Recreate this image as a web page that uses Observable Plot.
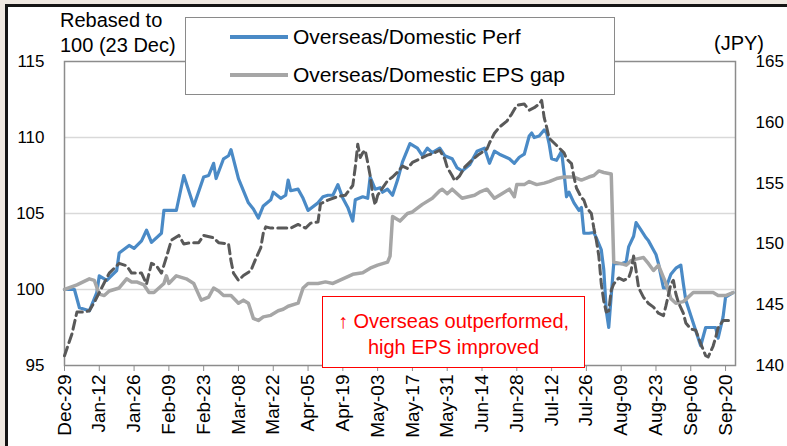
<!DOCTYPE html>
<html><head><meta charset="utf-8">
<script src="https://cdn.jsdelivr.net/npm/d3@7"></script>
<script src="https://cdn.jsdelivr.net/npm/@observablehq/plot@0.6"></script>
<style>
html,body{margin:0;padding:0;}
body{width:787px;height:446px;background:#efe8e1;position:relative;overflow:hidden;font-family:"Liberation Sans",Arial,sans-serif;color:#000;}
#panel{position:absolute;left:5px;top:4px;right:0;bottom:0;border-left:3px solid #151515;border-top:3px solid #151515;background:#fff;}
#chart{position:absolute;left:0;top:0;}
.txt{position:absolute;font-size:20px;line-height:25px;white-space:nowrap;}
#legend{position:absolute;left:185px;top:17px;width:430px;height:78px;box-sizing:border-box;border:1px solid #8a8a8a;background:#fff;}
.sw{position:absolute;height:3.5px;width:58px;left:230px;}
.lt{position:absolute;left:293px;font-size:21px;line-height:24px;white-space:nowrap;}
#note{position:absolute;left:322px;top:296px;width:263px;height:72px;box-sizing:border-box;border:1.5px solid #ff0000;background:#fff;color:#ff0000;font-size:20px;line-height:26px;text-align:center;padding-top:11px;}
</style></head>
<body>
<div id="panel"></div>
<div id="chart"></div>
<div class="txt" style="left:60px;top:8px;">Rebased to<br>100 (23 Dec)</div>
<div class="txt" style="left:714px;top:31px;">(JPY)</div>
<div id="legend"></div>
<div class="sw" style="top:35px;background:#4a8ac6;"></div>
<div class="lt" style="top:25px;">Overseas/Domestic Perf</div>
<div class="sw" style="top:73px;background:#a6a6a6;"></div>
<div class="lt" style="top:63px;">Overseas/Domestic EPS gap</div>
<div id="note">↑ Overseas outperformed,<br>high EPS improved</div>
<script>
// day offsets from 2023-12-29, value
const perf = [[0,100.0],[4,100.0],[6,98.8],[10,98.6],[13,99.8],[14,100.9],[17,100.6],[21,101.25],[22,102.4],[26,102.9],[28,102.7],[31,103.2],[33,103.9],[35,103.1],[39,103.7],[40,105.2],[45,105.2],[48,107.5],[52,105.5],[56,107.4],[58,107.5],[60,108.3],[61,107.3],[64,108.6],[66,108.8],[67,109.2],[70,107.3],[74,105.7],[76,105.3],[78,104.7],[80,105.5],[83,105.9],[84,106.4],[87,106.0],[89,106.2],[90,107.2],[91,106.5],[94,106.6],[96,106.0],[98,105.2],[102,105.7],[104,106.1],[106,106.2],[108,106.2],[110,106.9],[112,106.0],[114,105.4],[116,104.5],[117,105.9],[120,106.1],[122,106.0],[123,107.4],[125,106.6],[127,106.7],[128,106.4],[130,106.6],[132,106.2],[134,107.2],[136,108.4],[139,109.6],[142,109.3],[144,108.8],[146,109.3],[148,109.0],[151,109.3],[153,108.8],[156,108.6],[158,108.0],[160,107.8],[163,108.2],[166,109.1],[169,109.3],[171,108.3],[173,109.1],[175,108.9],[179,108.6],[181,108.3],[183,108.7],[185,108.9],[187,110.1],[188,110.3],[189,110.0],[191,110.1],[193,110.5],[194,110.3],[195,109.6],[196,108.6],[198,108.5],[200,109.1],[201,107.7],[202,106.1],[203,106.4],[205,105.7],[207,105.2],[208,105.4],[209,103.7],[211,103.7],[213,103.75],[214,103.4],[216,102.6],[217,101.3],[218,98.6],[219,97.5],[221,101.7],[224,101.7],[226,101.8],[227,102.8],[229,103.5],[230,104.4],[232,103.9],[234,103.4],[235,103.2],[237,102.6],[238,102.3],[239,101.7],[241,100.1],[242,100.1],[244,101.0],[246,101.4],[248,101.6],[249,100.4],[250,99.3],[253,97.8],[255,96.8],[256,96.3],[258,97.5],[262,97.5],[263,96.8],[265,98.2],[266,99.5],[267,99.6],[269,99.8]];

const epsGap = [[0,100.0],[5,100.3],[10,100.7],[12,100.6],[14,99.7],[16,99.6],[18,99.9],[22,100.1],[25,100.7],[27,100.5],[29,100.5],[32,100.3],[34,99.8],[36,99.8],[38,100.1],[40,100.4],[41,100.9],[42,100.4],[45,100.9],[49,100.7],[52,100.4],[55,99.3],[58,99.5],[60,100.1],[62,99.9],[64,99.6],[67,99.6],[70,99.1],[72,99.3],[74,99.1],[76,98.1],[78,97.96],[80,98.2],[83,98.3],[86,98.6],[88,98.7],[90,98.9],[94,99.1],[96,100.1],[98,100.4],[102,100.4],[105,100.5],[108,100.4],[112,100.7],[116,101.0],[120,101.1],[123,101.4],[126,101.6],[130,101.8],[131,102.2],[132,104.8],[135,104.5],[138,105.0],[140,105.1],[144,105.6],[148,106.0],[151,106.5],[152,106.6],[154,106.3],[156,106.6],[158,106.3],[160,106.0],[165,106.2],[167,106.4],[170,106.6],[173,106.0],[176,106.3],[179,106.6],[181,106.1],[182,106.9],[185,106.9],[187,107.1],[190,106.9],[193,107.0],[195,107.1],[198,107.3],[201,107.4],[205,107.4],[208,107.2],[211,107.4],[213,107.5],[215,107.8],[217,107.7],[220,107.6],[221,101.8],[224,101.7],[226,101.6],[228,101.9],[230,102.0],[233,102.1],[235,101.7],[237,101.25],[239,101.6],[241,100.8],[242,100.4],[244,99.4],[246,99.1],[249,99.2],[251,99.5],[253,99.8],[255,99.8],[258,99.8],[261,99.8],[263,99.6],[266,99.6],[269,99.8]];

// USD/JPY (right axis)
const usdJpy = [[0,140.8],[3,142.6],[5,144.4],[8,144.4],[10,144.5],[12,145.2],[14,146.0],[18,147.6],[22,148.4],[25,148.2],[27,147.6],[29,147.6],[31,147.6],[33,146.7],[35,148.4],[37,148.2],[39,147.6],[41,148.9],[43,150.3],[46,150.7],[48,150.0],[51,150.1],[54,150.1],[56,150.7],[60,150.5],[62,150.1],[66,150.0],[67,148.6],[68,147.6],[70,147.0],[72,147.4],[75,147.8],[77,148.8],[79,149.7],[80,150.9],[81,151.4],[83,151.3],[87,151.3],[91,151.3],[94,151.6],[97,151.3],[99,151.7],[102,151.8],[103,153.3],[106,153.6],[110,153.9],[113,154.0],[116,154.8],[117,156.3],[118,158.2],[119,157.1],[120,157.5],[121,157.7],[122,156.7],[123,155.6],[124,154.1],[125,153.2],[126,154.0],[128,154.6],[130,155.2],[132,155.5],[134,155.9],[136,156.4],[138,156.2],[140,156.7],[143,157.0],[146,157.3],[148,157.4],[151,157.7],[153,157.0],[154,156.3],[156,155.6],[157,155.2],[159,155.6],[161,156.3],[164,156.9],[167,157.4],[170,157.8],[171,158.3],[173,159.1],[175,159.6],[178,160.1],[180,160.7],[182,161.4],[185,161.5],[187,161.0],[189,161.2],[191,161.5],[192,161.8],[193,160.4],[194,159.6],[195,158.7],[197,158.3],[199,157.9],[201,157.5],[202,157.0],[204,156.6],[205,155.5],[206,154.6],[208,153.8],[209,153.6],[210,153.0],[212,152.5],[213,151.3],[214,150.3],[215,149.0],[216,146.7],[217,145.3],[218,144.4],[219,144.5],[220,146.2],[221,146.7],[223,147.2],[225,147.0],[227,147.2],[228,147.8],[229,149.0],[230,147.8],[231,146.4],[233,145.6],[235,145.1],[237,144.8],[239,144.3],[241,144.1],[242,144.9],[244,146.7],[245,147.0],[246,145.9],[247,145.2],[249,144.3],[250,143.5],[252,143.0],[254,142.9],[256,141.8],[258,140.8],[259,140.7],[261,141.6],[262,142.3],[263,143.1],[265,143.7],[267,143.7],[269,143.7]];

const tickLabels = ["Dec-29","Jan-12","Jan-26","Feb-09","Feb-23","Mar-08","Mar-22","Apr-05","Apr-19","May-03","May-17","May-31","Jun-14","Jun-28","Jul-12","Jul-26","Aug-09","Aug-23","Sep-06","Sep-20"];
const leftTicks = [95, 100, 105, 110, 115];
const rightTicks = [140, 145, 150, 155, 160, 165];
const gridLines = [100, 105, 110];

const startDate = new Date(Date.UTC(2023, 11, 29));
const endDate = new Date(Date.UTC(2024, 8, 24));
const toDate = d => d3.utcDay.offset(startDate, d);
const parseTick = d3.utcParse("%b-%d %Y");
const tickDates = tickLabels.map(s => parseTick(s + (s.startsWith("Dec") ? " 2023" : " 2024")));
// right axis 140..165 maps onto left 95..115
const toLeft = v => 95 + (v - 140) * (20 / 25);
const fromLeft = v => 140 + (v - 95) * (25 / 20);

const rows = arr => arr.map(([d, v]) => ({date: toDate(d), value: v}));

const chart = Plot.plot({
  width: 787, height: 446,
  marginLeft: 64, marginRight: 52, marginTop: 61, marginBottom: 81,
  style: {background: "transparent", fontFamily: "'Liberation Sans', Arial, sans-serif", fontSize: "17px", color: "#000", overflow: "visible"},
  x: {type: "utc", domain: [startDate, endDate]},
  y: {domain: [95, 115]},
  marks: [
    Plot.ruleY(gridLines, {stroke: "#d9d9d9", strokeWidth: 1.5}),
    Plot.frame({stroke: "#8c8c8c", strokeWidth: 1.5}),
    Plot.axisY(leftTicks, {anchor: "left", tickSize: 0, tickPadding: 20, label: null, fontSize: 17}),
    Plot.axisY(rightTicks.map(toLeft), {anchor: "right", tickSize: 0, tickPadding: 20, label: null, fontSize: 17, tickFormat: v => String(Math.round(fromLeft(v)))}),
    Plot.axisX(tickDates, {anchor: "bottom", tickRotate: -90, tickSize: 6, tickPadding: 3, stroke: "#8c8c8c", label: null, fontSize: 19, tickFormat: d3.utcFormat("%b-%d")}),
    Plot.line(rows(perf), {x: "date", y: "value", stroke: "#4a8ac6", strokeWidth: 3.2}),
    Plot.line(rows(epsGap), {x: "date", y: "value", stroke: "#a6a6a6", strokeWidth: 3.5}),
    Plot.line(rows(usdJpy), {x: "date", y: d => toLeft(d.value), stroke: "#595959", strokeWidth: 3, strokeDasharray: "9,5"})
  ]
});
document.getElementById("chart").appendChild(chart);
</script>
</body></html>
